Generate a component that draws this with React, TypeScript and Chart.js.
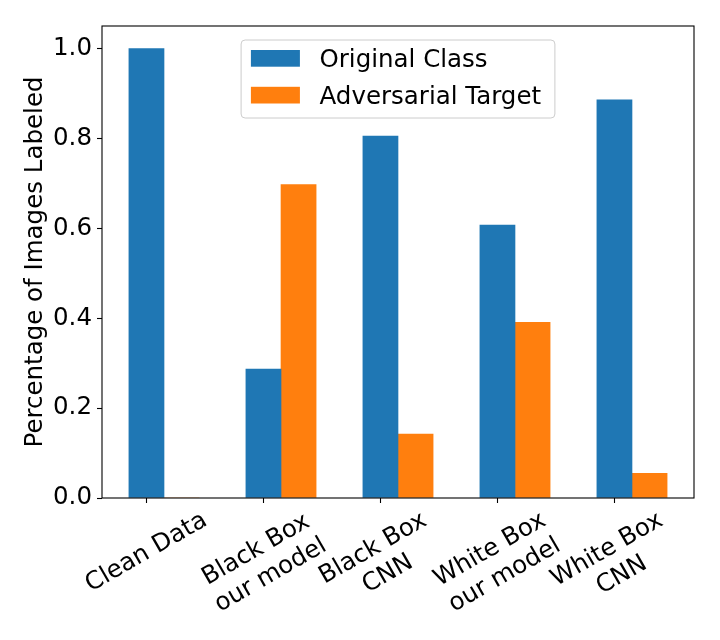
import { useEffect, useRef } from 'react'
import { Chart, registerables } from 'chart.js'

Chart.register(...registerables)

// data
const categories = [
  ['Clean Data'],
  ['Black Box', 'our model'],
  ['Black Box', 'CNN'],
  ['White Box', 'our model'],
  ['White Box', 'CNN'],
]
const originalClass = [1.0, 0.287, 0.805, 0.607, 0.886]
const adversarialTarget = [0, 0.697, 0.142, 0.391, 0.055]
const seriesLabels = ['Original Class', 'Adversarial Target']
const seriesColors = ['#1f77b4', '#ff7f0e']
const yTicks = [0, 0.2, 0.4, 0.6, 0.8, 1.0]
const barWidth = 0.3

const FONT = '"DejaVu Sans", "Noto Sans", sans-serif'
const FS = 24.5

// full box around the axes (matplotlib spines)
const framePlugin = {
  id: 'frame',
  afterDatasetsDraw(chart: any) {
    const { ctx, chartArea: a } = chart
    ctx.save()
    ctx.strokeStyle = '#000'
    ctx.lineWidth = 1.1
    ctx.strokeRect(a.left, a.top, a.right - a.left, a.bottom - a.top)
    ctx.restore()
  },
}

// rotated, centred category labels like matplotlib's rotation=30, ha='center'
const xLabelPlugin = {
  id: 'xLabels',
  afterDraw(chart: any) {
    const { ctx, chartArea } = chart
    const xs = chart.scales.x
    const ang = (30 * Math.PI) / 180
    const step = FS * 1.2
    ctx.save()
    ctx.font = `${FS}px ${FONT}`
    ctx.fillStyle = '#000'
    ctx.textAlign = 'center'
    ctx.textBaseline = 'alphabetic'
    categories.forEach((lines, i) => {
      const cx = xs.getPixelForValue(i)
      const top = chartArea.bottom + 10
      const w = Math.max(...lines.map((l) => ctx.measureText(l).width))
      const h = (lines.length - 1) * step + FS
      const bh = w * Math.sin(ang) + h * Math.cos(ang)
      ctx.save()
      ctx.translate(cx, top + bh / 2)
      ctx.rotate(-ang)
      lines.forEach((l, j) => {
        const c = (j - (lines.length - 1) / 2) * step
        ctx.fillText(l, 0, c + FS * 0.262)
      })
      ctx.restore()
    })
    ctx.restore()
  },
}

// legend box placed upper centre inside the axes
const legendPlugin = {
  id: 'boxLegend',
  afterDatasetsDraw(chart: any) {
    const { ctx, chartArea: a } = chart
    ctx.save()
    ctx.font = `${FS}px ${FONT}`
    const pad = 0.4 * FS
    const handle = 2 * FS
    const gap = 0.8 * FS
    const textW = Math.max(...seriesLabels.map((l) => ctx.measureText(l).width))
    const w = pad * 2 + handle + gap + textW + 4
    const h = 78
    const left = (a.left + a.right) / 2 - w / 2
    const top = a.top + 14
    ctx.beginPath()
    ctx.roundRect(left, top, w, h, 4)
    ctx.fillStyle = 'rgba(255,255,255,0.8)'
    ctx.fill()
    ctx.strokeStyle = '#cccccc'
    ctx.lineWidth = 1
    ctx.stroke()
    chart.data.datasets.forEach((ds: any, i: number) => {
      const base = top + 26.7 + i * 36.8
      ctx.fillStyle = ds.backgroundColor
      ctx.fillRect(left + pad, base - 16.7, handle, 16.7)
      ctx.fillStyle = '#000'
      ctx.textAlign = 'left'
      ctx.textBaseline = 'alphabetic'
      ctx.fillText(ds.label, left + pad + handle + gap, base)
    })
    ctx.restore()
  },
}

export default function App() {
  const canvasRef = useRef<HTMLCanvasElement>(null)
  const chartRef = useRef<Chart | null>(null)

  useEffect(() => {
    document.body.style.margin = '0'
    if (!canvasRef.current) return
    if (chartRef.current) chartRef.current.destroy()

    const config = {
      type: 'bar',
      data: {
        datasets: [
          {
            label: seriesLabels[0],
            data: originalClass.map((v, i) => ({ x: i, y: v })),
            backgroundColor: seriesColors[0],
          },
          {
            label: seriesLabels[1],
            data: adversarialTarget.map((v, i) => ({ x: i + barWidth, y: v })),
            backgroundColor: seriesColors[1],
          },
        ],
      },
      options: {
        animation: false,
        responsive: true,
        maintainAspectRatio: false,
        grouped: false,
        barPercentage: 1,
        categoryPercentage: 1,
        borderWidth: 0,
        layout: { padding: { top: 26, right: 26, left: 0, bottom: 0 } },
        plugins: {
          legend: { display: false },
          tooltip: { enabled: false },
        },
        scales: {
          x: {
            type: 'linear',
            offset: false,
            min: -0.38,
            max: 4.68,
            afterBuildTicks: (s: any) => {
              s.ticks = categories.map((_, i) => ({ value: i }))
            },
            afterFit: (s: any) => {
              s.height = 142
            },
            grid: {
              offset: false,
              drawOnChartArea: false,
              drawTicks: true,
              tickLength: 5,
              tickColor: '#000',
              tickWidth: 1.1,
            },
            border: { display: false },
            ticks: { display: false },
          },
          y: {
            type: 'linear',
            min: 0,
            max: 1.05,
            afterBuildTicks: (s: any) => {
              s.ticks = yTicks.map((v) => ({ value: v }))
            },
            afterFit: (s: any) => {
              s.width = 102
            },
            grid: {
              drawOnChartArea: false,
              drawTicks: true,
              tickLength: 5,
              tickColor: '#000',
              tickWidth: 1.1,
            },
            border: { display: false },
            ticks: {
              color: '#000',
              padding: 5,
              font: { family: FONT, size: FS },
              callback: (v: number) => v.toFixed(1),
            },
            title: {
              display: true,
              text: 'Percentage of Images Labeled',
              color: '#000',
              font: { family: FONT, size: FS },
              padding: { top: 21, bottom: 0 },
            },
          },
        },
      },
      plugins: [framePlugin, legendPlugin, xLabelPlugin],
    }

    chartRef.current = new Chart(canvasRef.current, config as any)
    return () => {
      if (chartRef.current) {
        chartRef.current.destroy()
        chartRef.current = null
      }
    }
  }, [])

  return (
    <div style={{ position: 'relative', width: 720, height: 640, background: '#fff' }}>
      <canvas ref={canvasRef} />
    </div>
  )
}
